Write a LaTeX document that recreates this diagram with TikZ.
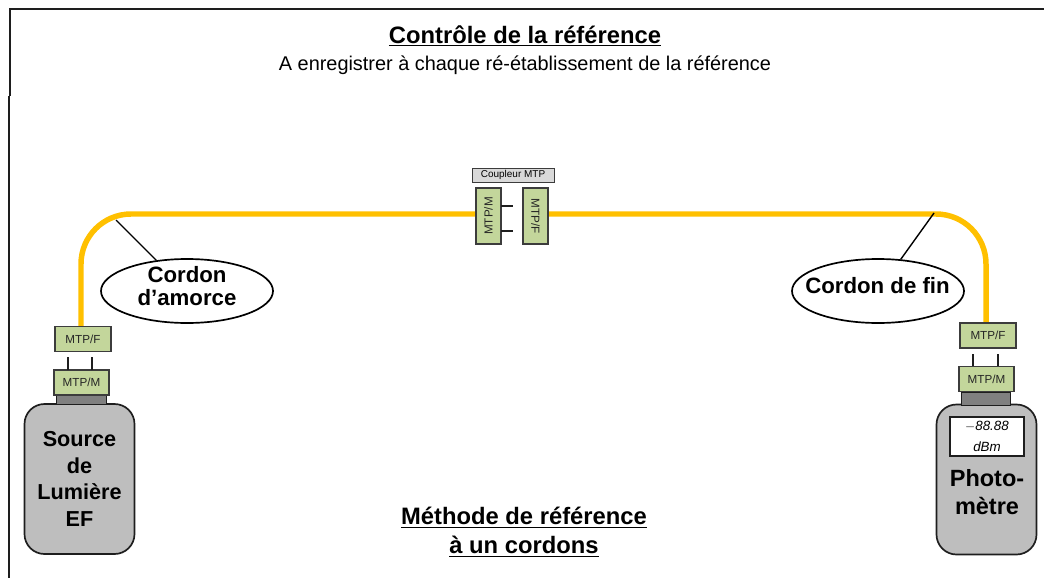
\documentclass[tikz,border=0pt]{standalone}
\usepackage{fontspec}
\usepackage{tikz}
\usetikzlibrary{shapes.geometric}
\setmainfont{Liberation Sans}

\definecolor{fibre}{RGB}{255,192,0}
\definecolor{connfill}{RGB}{195,214,155}
\definecolor{bodyfill}{RGB}{190,190,190}
\definecolor{neckfill}{RGB}{128,128,128}
\definecolor{framecol}{RGB}{30,30,30}
\definecolor{connline}{RGB}{60,60,60}

\tikzset{
    conn/.style={draw=connline, fill=connfill, line width=0.9pt, minimum width=55*0.025cm, minimum height=25*0.025cm, inner sep=0pt, text=black!85, font=\fontsize{8.3}{10}\selectfont},
    connv/.style={conn, minimum width=56*0.025cm, minimum height=25*0.025cm},
    pin/.style={draw=framecol, line width=1.8pt},
    fibreline/.style={draw=fibre, line width=3.9pt, rounded corners=50*0.025cm},
    bubble/.style={ellipse, draw=black, fill=white, line width=1.2pt, inner sep=0pt, minimum width=172*0.025cm, minimum height=64*0.025cm},
    bubbletext/.style={align=center, inner sep=0pt, font=\fontsize{15.8}{16.5}\selectfont\bfseries},
    appareil/.style={draw=framecol, fill=bodyfill, rounded corners=20*0.025cm, line width=1.2pt, align=center, inner sep=0pt},
    neck/.style={draw=framecol, fill=neckfill, line width=0.5pt, inner sep=0pt}
}

\begin{document}
\begin{tikzpicture}[x=0.025cm, y=-0.025cm]
        \useasboundingbox (0,0) rectangle (1044,578);

        % cadre
        \coordinate (F0) at (1044,9);
        \coordinate (F1) at (10,9);
        \coordinate (F2) at (10,96);
        \coordinate (F3) at (9,96);
        \coordinate (F4) at (9,578);
        \draw[framecol, line width=1.2pt] (F0) -- (F1) -- (F2);
        \draw[framecol, line width=1.2pt] (F3) -- (F4);

        % titres
        \node (titre) at (525,36) {\fontsize{16.9}{20}\selectfont\bfseries\underline{Contrôle de la référence}};
        \node (soustitre) at (525,65) {\fontsize{14.15}{18}\selectfont A enregistrer à chaque ré-établissement de la référence};
        \node[align=center, font=\fontsize{16.9}{20.5}\selectfont\bfseries] (methode) at (524,532) {\underline{Méthode de référence}\\\underline{à un cordons}};

        % fibres
        \coordinate (c1) at (81,214);
        \coordinate (c2) at (986,214);
        \coordinate (s1) at (81,326);
        \coordinate (p1) at (986,323);
        \coordinate (cm0) at (476,214);
        \coordinate (cf0) at (548,214);
        \draw[fibreline] (s1) -- (c1) -- (cm0);
        \draw[fibreline] (cf0) -- (c2) -- (p1);

        % coupleur
        \node[draw=connline, fill=black!15, line width=0.6pt, minimum width=82*0.025cm, minimum height=14*0.025cm, inner sep=0pt, font=\fontsize{7.1}{8}\selectfont] (coupleur) at (513,175) {Coupleur MTP};
        \node[connv, rotate=90] (cm) at (488.5,216) {MTP/M};
        \node[connv, rotate=-90] (cf) at (535.5,216) {MTP/F};
        \coordinate (cm1) at (513,206);
        \coordinate (cm2) at (513,231);
        \coordinate (cm3) at (501,206);
        \coordinate (cm4) at (501,231);
        \draw[pin] (cm3) -- (cm1);
        \draw[pin] (cm4) -- (cm2);

        % source
        \node[appareil, minimum width=110*0.025cm, minimum height=150*0.025cm, font=\fontsize{15.4}{19}\selectfont\bfseries] (source) at (79.5,479) {Source\\de\\Lumière\\EF};
        \node[neck, minimum width=50*0.025cm, minimum height=9*0.025cm] (sneck) at (81,399.5) {};
        \node[conn] (sm) at (81.5,382.5) {MTP/M};
        \node[conn, minimum width=56*0.025cm] (sf) at (83,339) {MTP/F};
        \draw[pin] (68,370) -- (68,357);
        \draw[pin] (92,370) -- (92,357);

        % photometre
        \node[appareil, minimum width=100*0.025cm, minimum height=150*0.025cm] (photo) at (986.5,479.5) {};
        \node[neck, minimum width=49*0.025cm, minimum height=13*0.025cm] (pneck) at (985.5,398.5) {};
        \node[conn] (pm) at (986.5,379) {MTP/M};
        \node[conn, minimum width=56*0.025cm] (pf) at (988,335.5) {MTP/F};
        \draw[pin] (973,366) -- (973,354);
        \draw[pin] (998,366) -- (998,354);
        \node[draw=framecol, fill=white, line width=0.8pt, minimum width=74*0.025cm, minimum height=39*0.025cm, inner sep=0pt, align=center, font=\fontsize{9.5}{15}\selectfont\itshape] (ecran) at (987,436.5) {$-$88.88\\dBm};
        \node[align=center, inner sep=0pt, font=\fontsize{16.7}{20}\selectfont\bfseries] (phototxt) at (987,492) {Photo-\\mètre};

        % cordons
        \coordinate (l1) at (116,220);
        \coordinate (l2) at (934,213);
        \node[bubble] (amorce) at (187,291) {};
        \node[bubble] (fin) at (878,291) {};
        \node[bubbletext] (amorcetxt) at (187,286) {Cordon\\d’amorce};
        \node[bubbletext] (fintxt) at (877.5,286) {Cordon de fin};
        \draw[black, line width=1pt] (l1) -- (amorce);
        \draw[black, line width=1pt] (l2) -- (fin);
    \end{tikzpicture}
\end{document}
